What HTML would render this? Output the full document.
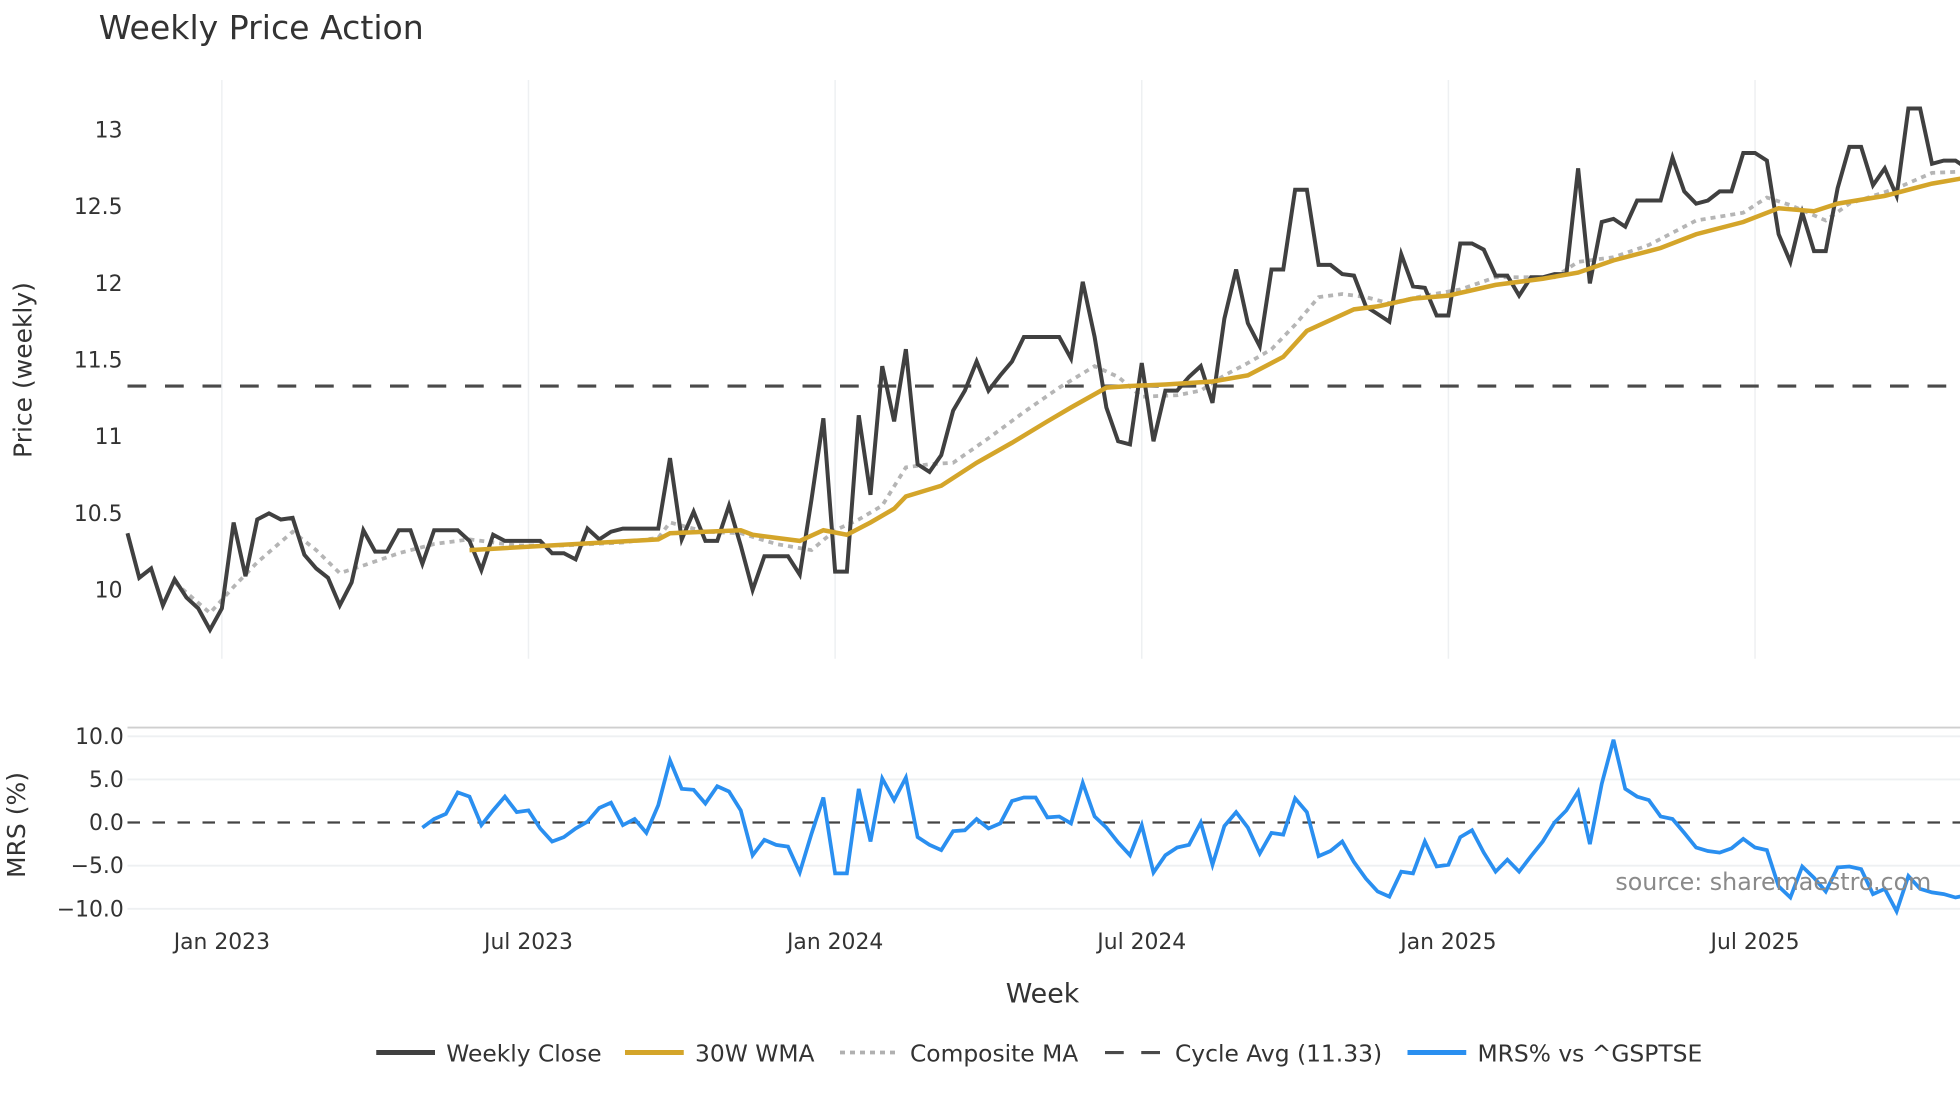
<!DOCTYPE html>
<html><head><meta charset="utf-8"><title>Weekly Price Action</title>
<style>
html,body{margin:0;padding:0;background:#fff;}
svg{display:block;font-family:"DejaVu Sans","Liberation Sans",sans-serif;}
</style></head>
<body>
<svg id="chart" width="1960" height="1102" viewBox="0 0 1568 881.6" xmlns="http://www.w3.org/2000/svg">
<text x="79" y="31" font-size="26.5" fill="#333">Weekly Price Action</text>
<g id="grid"></g>
<g id="axes"></g>
<g id="series"></g>
<text x="1545" y="712" font-size="19" fill="#8a8a8a" text-anchor="end">source: sharemaestro.com</text>
<text x="834" y="802" font-size="21.5" fill="#333" text-anchor="middle">Week</text>
<text transform="translate(25,296) rotate(-90)" font-size="20" fill="#333" text-anchor="middle">Price (weekly)</text>
<text transform="translate(20,660) rotate(-90)" font-size="20" fill="#333" text-anchor="middle">MRS (%)</text>
<g id="legend">
  <g><line x1="301" y1="842" x2="348" y2="842" stroke="#404040" stroke-width="4"/><text x="357" y="849" font-size="18.7" fill="#333">Weekly Close</text></g>
  <g><line x1="500" y1="842" x2="547" y2="842" stroke="#d4a52a" stroke-width="4"/><text x="556" y="849" font-size="18.7" fill="#333">30W WMA</text></g>
  <g><line x1="672" y1="842" x2="719" y2="842" stroke="#b0b0b0" stroke-width="3" stroke-dasharray="4,4"/><text x="728" y="849" font-size="18.7" fill="#333">Composite MA</text></g>
  <g><line x1="884" y1="842" x2="928" y2="842" stroke="#4a4a4a" stroke-width="2.5" stroke-dasharray="15,14"/><text x="940" y="849" font-size="18.7" fill="#333">Cycle Avg (11.33)</text></g>
  <g><line x1="1126" y1="842" x2="1173" y2="842" stroke="#2a8ff0" stroke-width="4"/><text x="1182" y="849" font-size="18.7" fill="#333">MRS% vs ^GSPTSE</text></g>
</g>
</svg>
<script>
const closeValues = [10.37,10.08,10.14,9.9,10.07,9.95,9.88,9.74,9.88,10.44,10.09,10.46,10.5,10.46,10.47,10.23,10.14,10.08,9.9,10.05,10.39,10.25,10.25,10.39,10.39,10.17,10.39,10.39,10.39,10.32,10.13,10.36,10.32,10.32,10.32,10.32,10.24,10.24,10.2,10.4,10.33,10.38,10.4,10.4,10.4,10.4,10.86,10.33,10.51,10.32,10.32,10.55,10.29,10.0,10.22,10.22,10.22,10.1,10.59,11.12,10.12,10.12,11.14,10.62,11.46,11.1,11.57,10.82,10.77,10.88,11.17,11.3,11.49,11.3,11.4,11.49,11.65,11.65,11.65,11.65,11.51,12.01,11.65,11.19,10.97,10.95,11.48,10.97,11.3,11.3,11.39,11.46,11.22,11.77,12.09,11.74,11.59,12.09,12.09,12.61,12.61,12.12,12.12,12.06,12.05,11.85,11.8,11.75,12.19,11.98,11.97,11.79,11.79,12.26,12.26,12.22,12.05,12.05,11.92,12.04,12.04,12.06,12.06,12.75,12.0,12.4,12.42,12.37,12.54,12.54,12.54,12.82,12.6,12.52,12.54,12.6,12.6,12.85,12.85,12.8,12.32,12.14,12.46,12.21,12.21,12.62,12.89,12.89,12.64,12.75,12.57,13.14,13.14,12.78,12.8,12.8,12.75];
const wmaWeeks = [29,45,46,52,53,57,59,61,63,65,66,69,72,75,78,80,83,85,88,92,95,98,100,104,106,109,112,116,120,123,126,130,133,137,140,143,145,149,153,156];
const wmaValues = [10.26,10.33,10.37,10.39,10.36,10.32,10.39,10.36,10.44,10.53,10.61,10.68,10.83,10.96,11.1,11.19,11.32,11.33,11.34,11.36,11.4,11.52,11.69,11.83,11.85,11.9,11.92,11.99,12.03,12.07,12.15,12.23,12.32,12.4,12.49,12.47,12.52,12.57,12.65,12.69];
const compWeeks = [4,7,9,11,14,16,18,20,23,26,29,33,37,42,45,46,49,52,55,58,60,62,64,66,68,70,73,76,79,82,84,86,89,91,93,95,97,99,101,103,105,107,110,113,116,121,123,126,129,133,137,139,141,144,146,150,153,156];
const compValues = [10.05,9.85,10.02,10.18,10.38,10.26,10.11,10.16,10.24,10.3,10.33,10.29,10.29,10.31,10.34,10.44,10.38,10.37,10.3,10.26,10.39,10.46,10.55,10.8,10.82,10.83,10.99,11.16,11.32,11.46,11.39,11.26,11.27,11.3,11.4,11.48,11.57,11.73,11.91,11.93,11.91,11.87,11.92,11.96,12.04,12.04,12.14,12.17,12.25,12.41,12.46,12.56,12.51,12.41,12.52,12.62,12.72,12.73];
const mrsStart = 25;
const mrsValues = [-0.6,0.4,1.0,3.5,3.0,-0.3,1.4,3.0,1.2,1.4,-0.7,-2.2,-1.7,-0.7,0.1,1.7,2.3,-0.3,0.4,-1.2,2.0,7.2,3.9,3.8,2.2,4.2,3.6,1.4,-3.8,-2.0,-2.6,-2.8,-5.8,-1.3,2.9,-5.9,-5.9,3.9,-2.2,5.1,2.6,5.2,-1.7,-2.6,-3.2,-1.0,-0.9,0.4,-0.7,-0.1,2.5,2.9,2.9,0.6,0.7,-0.1,4.6,0.7,-0.6,-2.3,-3.8,-0.3,-5.8,-3.8,-2.9,-2.6,0,-4.9,-0.4,1.2,-0.6,-3.6,-1.2,-1.4,2.8,1.2,-3.9,-3.3,-2.2,-4.6,-6.5,-8.0,-8.6,-5.7,-5.9,-2.2,-5.1,-4.9,-1.7,-0.9,-3.5,-5.7,-4.3,-5.7,-3.9,-2.2,0,1.4,3.6,-2.5,4.5,9.6,3.9,3.0,2.6,0.7,0.4,-1.2,-2.9,-3.3,-3.5,-3.0,-1.9,-2.9,-3.2,-7.4,-8.7,-5.1,-6.4,-8.0,-5.2,-5.1,-5.4,-8.3,-7.7,-10.3,-6.2,-7.7,-8.1,-8.3,-8.7,-8.4];
const cycleAvg = 11.33;
const priceTicks = [10,10.5,11,11.5,12,12.5,13];
const priceTickLabels = ["10","10.5","11","11.5","12","12.5","13"];
const mrsTicks = [-10,-5,0,5,10];
const mrsTickLabels = ["\u221210.0","\u22125.0","0.0","5.0","10.0"];
const dateTickWeeks = [8,34,60,86,112,138];
const dateTickLabels = ["Jan 2023","Jul 2023","Jan 2024","Jul 2024","Jan 2025","Jul 2025"];

const NS = "http://www.w3.org/2000/svg";
const X0 = 102, XW = 9.435;
function xScale(w){ return X0 + w*XW; }
function yPrice(v){ return 472 - (v-10)*122.67; }
function yMrs(v){ return 658 - v*6.9; }
function mk(tag, attrs, parent){
  const e = document.createElementNS(NS, tag);
  for (const k in attrs) e.setAttribute(k, attrs[k]);
  parent.appendChild(e); return e;
}
const grid = document.getElementById('grid');
const axes = document.getElementById('axes');
const series = document.getElementById('series');

dateTickWeeks.forEach((w,i)=>{
  const x = xScale(w);
  const g1 = mk('line',{x1:x,y1:64,x2:x,y2:527,stroke:'#eef0f2','stroke-width':1.2},grid);
  
  
  const t = mk('text',{x:x,y:759,'font-size':17.5,fill:'#333','text-anchor':'middle'},axes);
  t.textContent = dateTickLabels[i];
  
  
});
priceTicks.forEach((v,i)=>{
  const t = mk('text',{x:98,y:yPrice(v)+6,'font-size':17.5,fill:'#333','text-anchor':'end'},axes);
  t.textContent = priceTickLabels[i];
  
  
});
mk('line',{x1:102,y1:582,x2:1568,y2:582,stroke:'#cfcfcf','stroke-width':1.5},grid);
mrsTicks.forEach((v,i)=>{
  const y = yMrs(v);
  if (v!==0){
    const gl = mk('line',{x1:102,y1:y,x2:1568,y2:y,stroke:'#eef0f2','stroke-width':1.5},grid);
    
    
  }
  const t = mk('text',{x:99,y:y+6,'font-size':17.5,fill:'#333','text-anchor':'end'},axes);
  t.textContent = mrsTickLabels[i];
  
  
});

function pathFrom(xs, ys){
  return xs.map((x,i)=>(i?'L':'M')+x.toFixed(1)+','+ys[i].toFixed(1)).join(' ');
}
const ca = mk('line',{x1:102,y1:yPrice(cycleAvg),x2:1568,y2:yPrice(cycleAvg),stroke:'#4a4a4a','stroke-width':2.5,'stroke-dasharray':'15,15'},series);


const z = mk('line',{x1:102,y1:yMrs(0),x2:1568,y2:yMrs(0),stroke:'#444','stroke-width':1.8,'stroke-dasharray':'10,10'},series);



const cp = mk('path',{d:pathFrom(compWeeks.map(xScale), compValues.map(yPrice)),fill:'none',stroke:'#b5b5b5','stroke-width':3,'stroke-dasharray':'4,4'},series);


const cl = mk('path',{d:pathFrom(closeValues.map((v,i)=>xScale(i)), closeValues.map(yPrice)),fill:'none',stroke:'#404040','stroke-width':3.2,'stroke-linejoin':'miter'},series);


const wm = mk('path',{d:pathFrom(wmaWeeks.map(xScale), wmaValues.map(yPrice)),fill:'none',stroke:'#d4a52a','stroke-width':3.6},series);


const mr = mk('path',{d:pathFrom(mrsValues.map((v,i)=>xScale(mrsStart+i)), mrsValues.map(yMrs)),fill:'none',stroke:'#2a8ff0','stroke-width':3},series);


</script>
</body></html>
